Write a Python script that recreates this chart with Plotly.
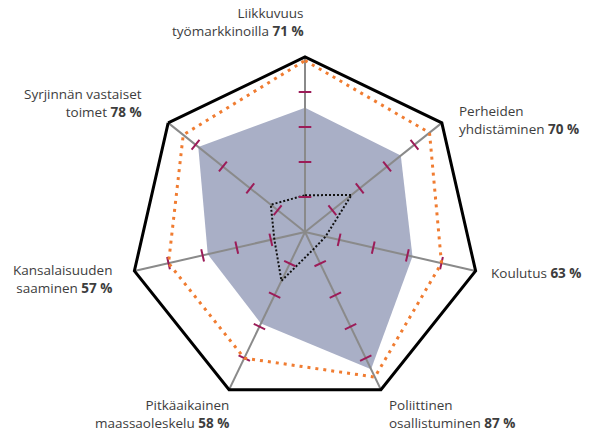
import plotly.graph_objects as go

categories = ["Liikkuvuus työmarkkinoilla", "Perheiden yhdistäminen", "Koulutus",
              "Poliittinen osallistuminen", "Pitkäaikainen maassaoleskelu",
              "Kansalaisuuden saaminen", "Syrjinnän vastaiset toimet"]
label_lines = [("Liikkuvuus", "työmarkkinoilla"), ("Perheiden", "yhdistäminen"), ("", "Koulutus"),
               ("Poliittinen", "osallistuminen"), ("Pitkäaikainen", "maassaoleskelu"),
               ("Kansalaisuuden", "saaminen"), ("Syrjinnän vastaiset", "toimet")]
values = [71, 70, 63, 87, 58, 57, 78]
best_values = [98, 91, 80, 92, 80, 80, 89]
low_values = [21, 34, 12, 11, 31, 18, 25]
tick_values = [20, 40, 60, 80]

W, H = 589, 434
cx, cy, R = 305, 232, 175

fig = go.Figure()

# filled area
fig.add_trace(go.Scatterpolar(
    r=values + values[:1], theta=categories + categories[:1],
    fill="toself", fillcolor="#a9afc6", mode="lines",
    line=dict(width=0, color="#a9afc6"), hoverinfo="skip"))

# spokes
sr, st = [], []
for c in categories:
    sr += [0, 100, None]
    st += [c, c, None]
fig.add_trace(go.Scatterpolar(r=sr, theta=st, mode="lines",
                              line=dict(color="#8a8a8a", width=2), connectgaps=False,
                              hoverinfo="skip"))

# low dotted
fig.add_trace(go.Scatterpolar(
    r=low_values + low_values[:1], theta=categories + categories[:1], mode="lines",
    line=dict(color="#111111", width=2, dash="2px,2px"), hoverinfo="skip"))

# tick marks
tr, tt, ta = [], [], []
for i, c in enumerate(categories):
    for v in tick_values:
        tr.append(v)
        tt.append(c)
        ta.append(i * 360 / 7)
fig.add_trace(go.Scatterpolar(
    r=tr, theta=tt, mode="markers",
    marker=dict(symbol="line-ew", size=9, angle=ta,
                line=dict(color="#9c1c58", width=2), color="#9c1c58"),
    hoverinfo="skip"))

# best dotted
fig.add_trace(go.Scatterpolar(
    r=best_values + best_values[:1], theta=categories + categories[:1], mode="lines",
    line=dict(color="#f07c31", width=3, dash="3px,5px"), hoverinfo="skip"))

fig.update_layout(
    width=W, height=H, margin=dict(l=0, r=0, t=0, b=0),
    paper_bgcolor="white", plot_bgcolor="white", showlegend=False,
    font=dict(family="Open Sans", color="#3d3d3d", size=13.5),
    polar=dict(
        domain=dict(x=[(cx - R) / W, (cx + R) / W], y=[1 - (cy + R) / H, 1 - (cy - R) / H]),
        bgcolor="white",
        gridshape="linear",
        radialaxis=dict(range=[0, 100], showgrid=False, showline=False,
                        showticklabels=False, ticks=""),
        angularaxis=dict(rotation=90, direction="clockwise", showgrid=False,
                         showline=True, linecolor="black", linewidth=3,
                         showticklabels=False, ticks=""),
    ),
)

# label placement (pixel anchor, xanchor, align)
label_pos = [
    (306, 22, "right"),
    (457, 120, "left"),
    (489, 273, "left"),
    (387, 414, "left"),
    (231, 414, "right"),
    (114, 279, "right"),
    (144, 103, "right"),
]
for (l1, l2), v, (px, py, anc) in zip(label_lines, values, label_pos):
    if l1:
        txt = f"{l1}<br>{l2} <b>{v} %</b>"
    else:
        txt = f"{l2} <b>{v} %</b>"
    fig.add_annotation(x=px / W, y=1 - py / H, xref="paper", yref="paper",
                       text=txt, showarrow=False, xanchor=anc, yanchor="middle",
                       align=anc, font=dict(size=13.5, color="#3d3d3d"))

fig.write_html("out.html", config={"displayModeBar": False},
               post_script="document.body.style.margin='0';")
